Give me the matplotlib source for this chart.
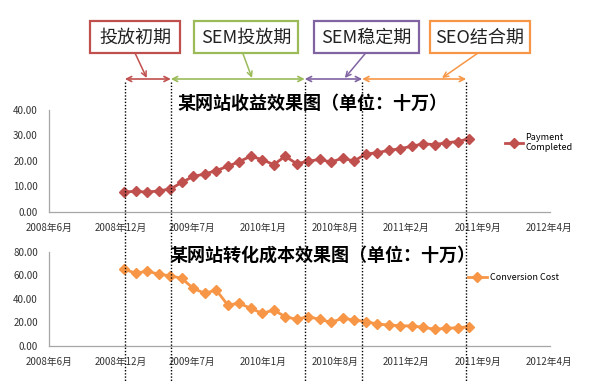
import matplotlib
matplotlib.use('Agg')
import matplotlib.pyplot as plt
import numpy as np
from matplotlib.transforms import blended_transform_factory
from matplotlib.patches import Rectangle
from matplotlib.lines import Line2D

plt.rcParams['font.family'] = ['Noto Sans CJK SC', 'DejaVu Sans']

# ---------------- data ----------------
payment = [7.8, 8.0, 7.7, 8.2, 8.9, 11.5, 13.9, 14.8, 16.2, 17.8, 19.7, 21.8, 20.5,
           18.5, 21.8, 18.9, 19.8, 20.6, 19.5, 21.1, 19.9, 22.7, 23.2, 24.1, 24.8,
           25.7, 26.7, 26.4, 27.1, 27.6, 28.7]
cost = [65.1, 61.7, 63.6, 60.8, 59.6, 57.4, 48.9, 44.7, 47.5, 34.8, 36.2, 32.0, 27.7,
        30.5, 24.9, 22.6, 24.9, 22.6, 20.1, 23.5, 22.1, 20.6, 18.7, 17.8, 17.2,
        17.0, 15.9, 14.2, 15.0, 15.5, 16.4]
periods = list(range(len(payment)))
tick_pos = [-6.55, -0.33, 5.89, 12.11, 18.33, 24.55, 30.77, 36.99]
tick_labels = ['2008年6月', '2008年12月', '2009年7月', '2010年1月',
               '2010年8月', '2011年2月', '2011年9月', '2012年4月']
phase_names = ['投放初期', 'SEM投放期', 'SEM稳定期', 'SEO结合期']
phase_bounds = [0.05, 4.05, 15.7, 20.7, 29.75]
phase_colors = ['#C0504D', '#9BBB59', '#8064A2', '#F79646']
title_top = '某网站收益效果图（单位：十万）'
title_bot = '某网站转化成本效果图（单位：十万）'

W, H = 597, 382
fig = plt.figure(figsize=(W / 100, H / 100), dpi=100)
fig.patch.set_facecolor('white')

def fx(px):
    return px / W

def fy(py):
    return 1 - py / H

ax1 = fig.add_axes([fx(49), fy(211.7), (549.5 - 49) / W, (211.7 - 110) / H])
ax2 = fig.add_axes([fx(49), fy(346), (549.5 - 49) / W, (346 - 251.7) / H])

red = '#C0504D'
orange = '#F79646'

l1, = ax1.plot(periods, payment, color=red, lw=2.0, marker='D', markersize=5.5,
               label='Payment\nCompleted')
l2, = ax2.plot(periods, cost, color=orange, lw=2.0, marker='D', markersize=5.5,
               label='Conversion Cost')

for ax, ymax, step in [(ax1, 40, 10), (ax2, 80, 20)]:
    ax.set_xlim(tick_pos[0], 37.0)
    ax.set_ylim(0, ymax)
    ax.set_yticks(np.arange(0, ymax + 0.1, step))
    ax.set_yticklabels([f'{v:.2f}' for v in np.arange(0, ymax + 0.1, step)])
    ax.set_xticks(tick_pos)
    ax.set_xticklabels(tick_labels)
    ax.tick_params(axis='both', length=0, labelsize=7, colors='#333333')
    ax.tick_params(axis='y', pad=8)
    ax.tick_params(axis='x', pad=8)
    for s in ['top', 'right']:
        ax.spines[s].set_visible(False)
    for s in ['left', 'bottom']:
        ax.spines[s].set_color('#A6A6A6')
        ax.spines[s].set_linewidth(0.9)
    ax.patch.set_alpha(0)

leg1 = fig.legend(handles=[l1], loc='upper left', bbox_to_anchor=(fx(500), fy(128)),
                  frameon=False, fontsize=6.5, handlelength=2.0, handletextpad=0.3,
                  borderpad=0, numpoints=1, labelspacing=0.2)
leg2 = fig.legend(handles=[l2], loc='center left', bbox_to_anchor=(fx(463), fy(278)),
                  frameon=False, fontsize=6.5, handlelength=2.2, handletextpad=0.3,
                  borderpad=0, numpoints=1)

fig.text(fx(312), fy(103), title_top, ha='center', va='center', fontsize=13,
         fontweight='bold', zorder=5)
fig.text(fx(322), fy(255), title_bot, ha='center', va='center', fontsize=13,
         fontweight='bold', zorder=5)

trans = blended_transform_factory(ax1.transData, fig.transFigure)

# vertical dotted phase lines
for b in phase_bounds:
    fig.add_artist(Line2D([b, b], [fy(82), 0], transform=trans, color='black',
                          lw=1.0, linestyle=(0, (1, 1.3)), zorder=4))

# double arrows between phase bounds
for i in range(4):
    ax1.annotate('', xy=(phase_bounds[i + 1], fy(79)), xytext=(phase_bounds[i], fy(79)),
                 xycoords=trans, textcoords=trans, annotation_clip=False,
                 arrowprops=dict(arrowstyle='<->', color=phase_colors[i], lw=1.2,
                                 shrinkA=0, shrinkB=0, mutation_scale=9))

# boxes
boxes = [(90, 180), (194, 298), (314, 419), (430, 530)]
pointers = [((135, 53), (146.7, 78)), ((242.7, 53), (252, 78)),
            ((365.7, 53), (344.8, 78)), ((478, 53), (442, 78))]
for i, (x0, x1) in enumerate(boxes):
    fig.add_artist(Rectangle((fx(x0), fy(53)), (x1 - x0) / W, 32 / H,
                             transform=fig.transFigure, facecolor='white',
                             edgecolor=phase_colors[i], lw=1.6, zorder=5))
    fig.text(fx((x0 + x1) / 2), fy(37.5), phase_names[i], ha='center', va='center',
             fontsize=13, color='#222222', zorder=6)
    (sx, sy), (ex, ey) = pointers[i]
    fig.add_artist(matplotlib.patches.FancyArrowPatch(
        (fx(sx), fy(sy)), (fx(ex), fy(ey)), transform=fig.transFigure,
        arrowstyle='->', color=phase_colors[i], lw=1.1, mutation_scale=9,
        shrinkA=0, shrinkB=0, zorder=5))

fig.savefig('out.png', dpi=100, facecolor='white')
